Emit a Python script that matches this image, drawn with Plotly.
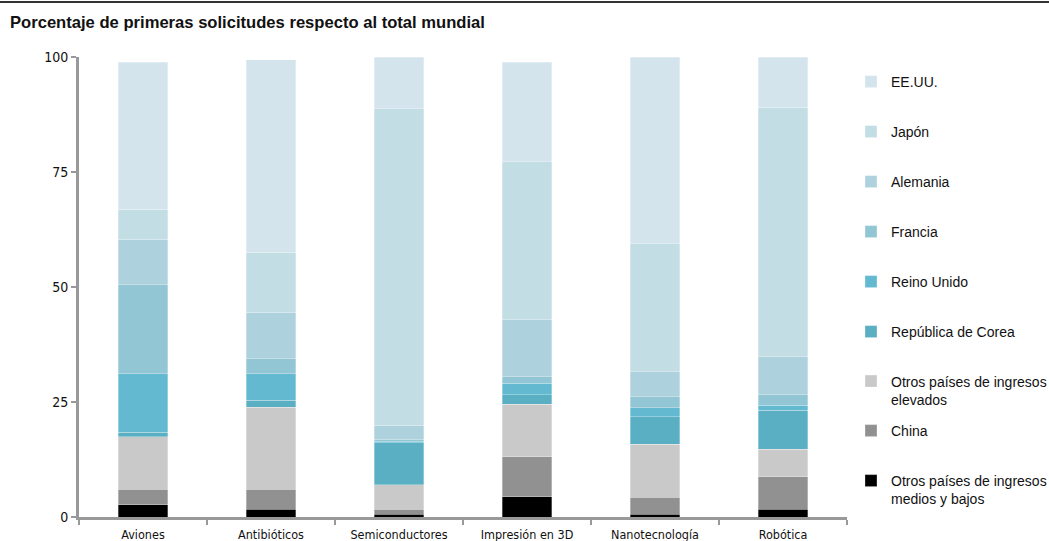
import plotly.graph_objects as go

categories = ["Aviones", "Antibióticos", "Semiconductores", "Impresión en 3D", "Nanotecnología", "Robótica"]

otros_medios_bajos = [2.7, 1.7, 0.6, 4.4, 0.6, 1.7]
china = [3.3, 4.3, 1.1, 8.7, 3.7, 7.0]
otros_elevados = [11.4, 17.9, 5.3, 11.4, 11.5, 6.0]
corea = [1.0, 1.5, 9.1, 2.1, 6.0, 8.5]
reino_unido = [12.7, 5.7, 0.3, 2.5, 2.0, 1.1]
francia = [19.4, 3.3, 0.4, 1.4, 2.3, 2.3]
alemania = [9.9, 10.1, 3.2, 12.4, 5.5, 8.2]
japon = [6.5, 13.1, 68.7, 34.3, 27.8, 54.3]
eeuu = [32.0, 41.8, 11.3, 21.7, 40.6, 10.9]

series_names = ["Otros países de ingresos<br>medios y bajos", "China",
                "Otros países de ingresos<br>elevados", "República de Corea",
                "Reino Unido", "Francia", "Alemania", "Japón", "EE.UU."]
series_values = [otros_medios_bajos, china, otros_elevados, corea,
                 reino_unido, francia, alemania, japon, eeuu]
colors = ["#000000", "#919191", "#c9c9c9", "#5aafc3", "#62b9d0",
          "#93c6d4", "#aed2dd", "#c3dde4", "#d3e4ec"]
# legend line centers (px) for each series
legend_px = [490, 431, 390.5, 332, 282, 232, 182, 132, 82]

W, H = 1049, 541
L, R, T, B = 79, 202, 57, 24
PW, PH = W - L - R, H - T - B

fig = go.Figure()
layout_legends = {}
for i, (name, vals, col, ypx) in enumerate(zip(series_names, series_values, colors, legend_px)):
    key = "legend" if i == 0 else f"legend{i+1}"
    fig.add_trace(go.Bar(
        x=categories, y=vals, name=name,
        marker=dict(color=col, line=dict(color="rgba(255,255,255,0.5)", width=0.6)),
        legend=key,
        hovertemplate="%{x}: %{y:.1f}%<extra>" + name.replace("<br>", " ") + "</extra>",
    ))
    layout_legends[key] = dict(
        x=(851 - L) / PW, xanchor="left",
        y=(H - B - ypx) / PH, yanchor="middle",
        bgcolor="rgba(0,0,0,0)", borderwidth=0,
        font=dict(family="Liberation Sans, Arial, sans-serif", size=14, color="#111"),
        valign="top", itemwidth=30,
    )

fig.update_layout(
    width=W, height=H,
    margin=dict(l=L, r=R, t=T, b=B, autoexpand=False),
    barmode="stack", bargap=0.61,
    paper_bgcolor="white", plot_bgcolor="white",
    showlegend=True,
    title=dict(text="<b>Porcentaje de primeras solicitudes respecto al total mundial</b>",
               x=10 / W, xanchor="left", y=1 - 22 / H, yanchor="middle",
               font=dict(family="Liberation Sans, Arial, sans-serif", size=16.6, color="#111")),
    xaxis=dict(
        type="category", range=[-0.5, 5.5], showgrid=False,
        showline=True, linecolor="#999999", linewidth=3,
        ticks="outside", tickson="boundaries", ticklen=5, tickwidth=2, tickcolor="#999999",
        tickfont=dict(family="Liberation Sans Narrow, DejaVu Sans Condensed, sans-serif", size=12.5, color="#111"),
        ticklabelstandoff=4,
        automargin=False, fixedrange=True,
    ),
    yaxis=dict(
        range=[0, 100], tickvals=[0, 25, 50, 75, 100], showgrid=False, zeroline=False,
        showline=True, linecolor="#999999", linewidth=3,
        ticks="outside", ticklen=5, tickwidth=2, tickcolor="#999999",
        tickfont=dict(family="Liberation Sans Narrow, DejaVu Sans Condensed, sans-serif", size=14, color="#111"),
        automargin=False, fixedrange=True,
    ),
    shapes=[dict(type="line", xref="paper", yref="paper",
                 x0=-L / PW, x1=(W - L) / PW, y0=(H - B - 2) / PH, y1=(H - B - 2) / PH,
                 line=dict(color="#333333", width=2))],
    **layout_legends,
)

fig.write_html("out.html", config={"displayModeBar": False},
               post_script="document.body.style.margin='0';document.body.style.overflow='hidden';")
